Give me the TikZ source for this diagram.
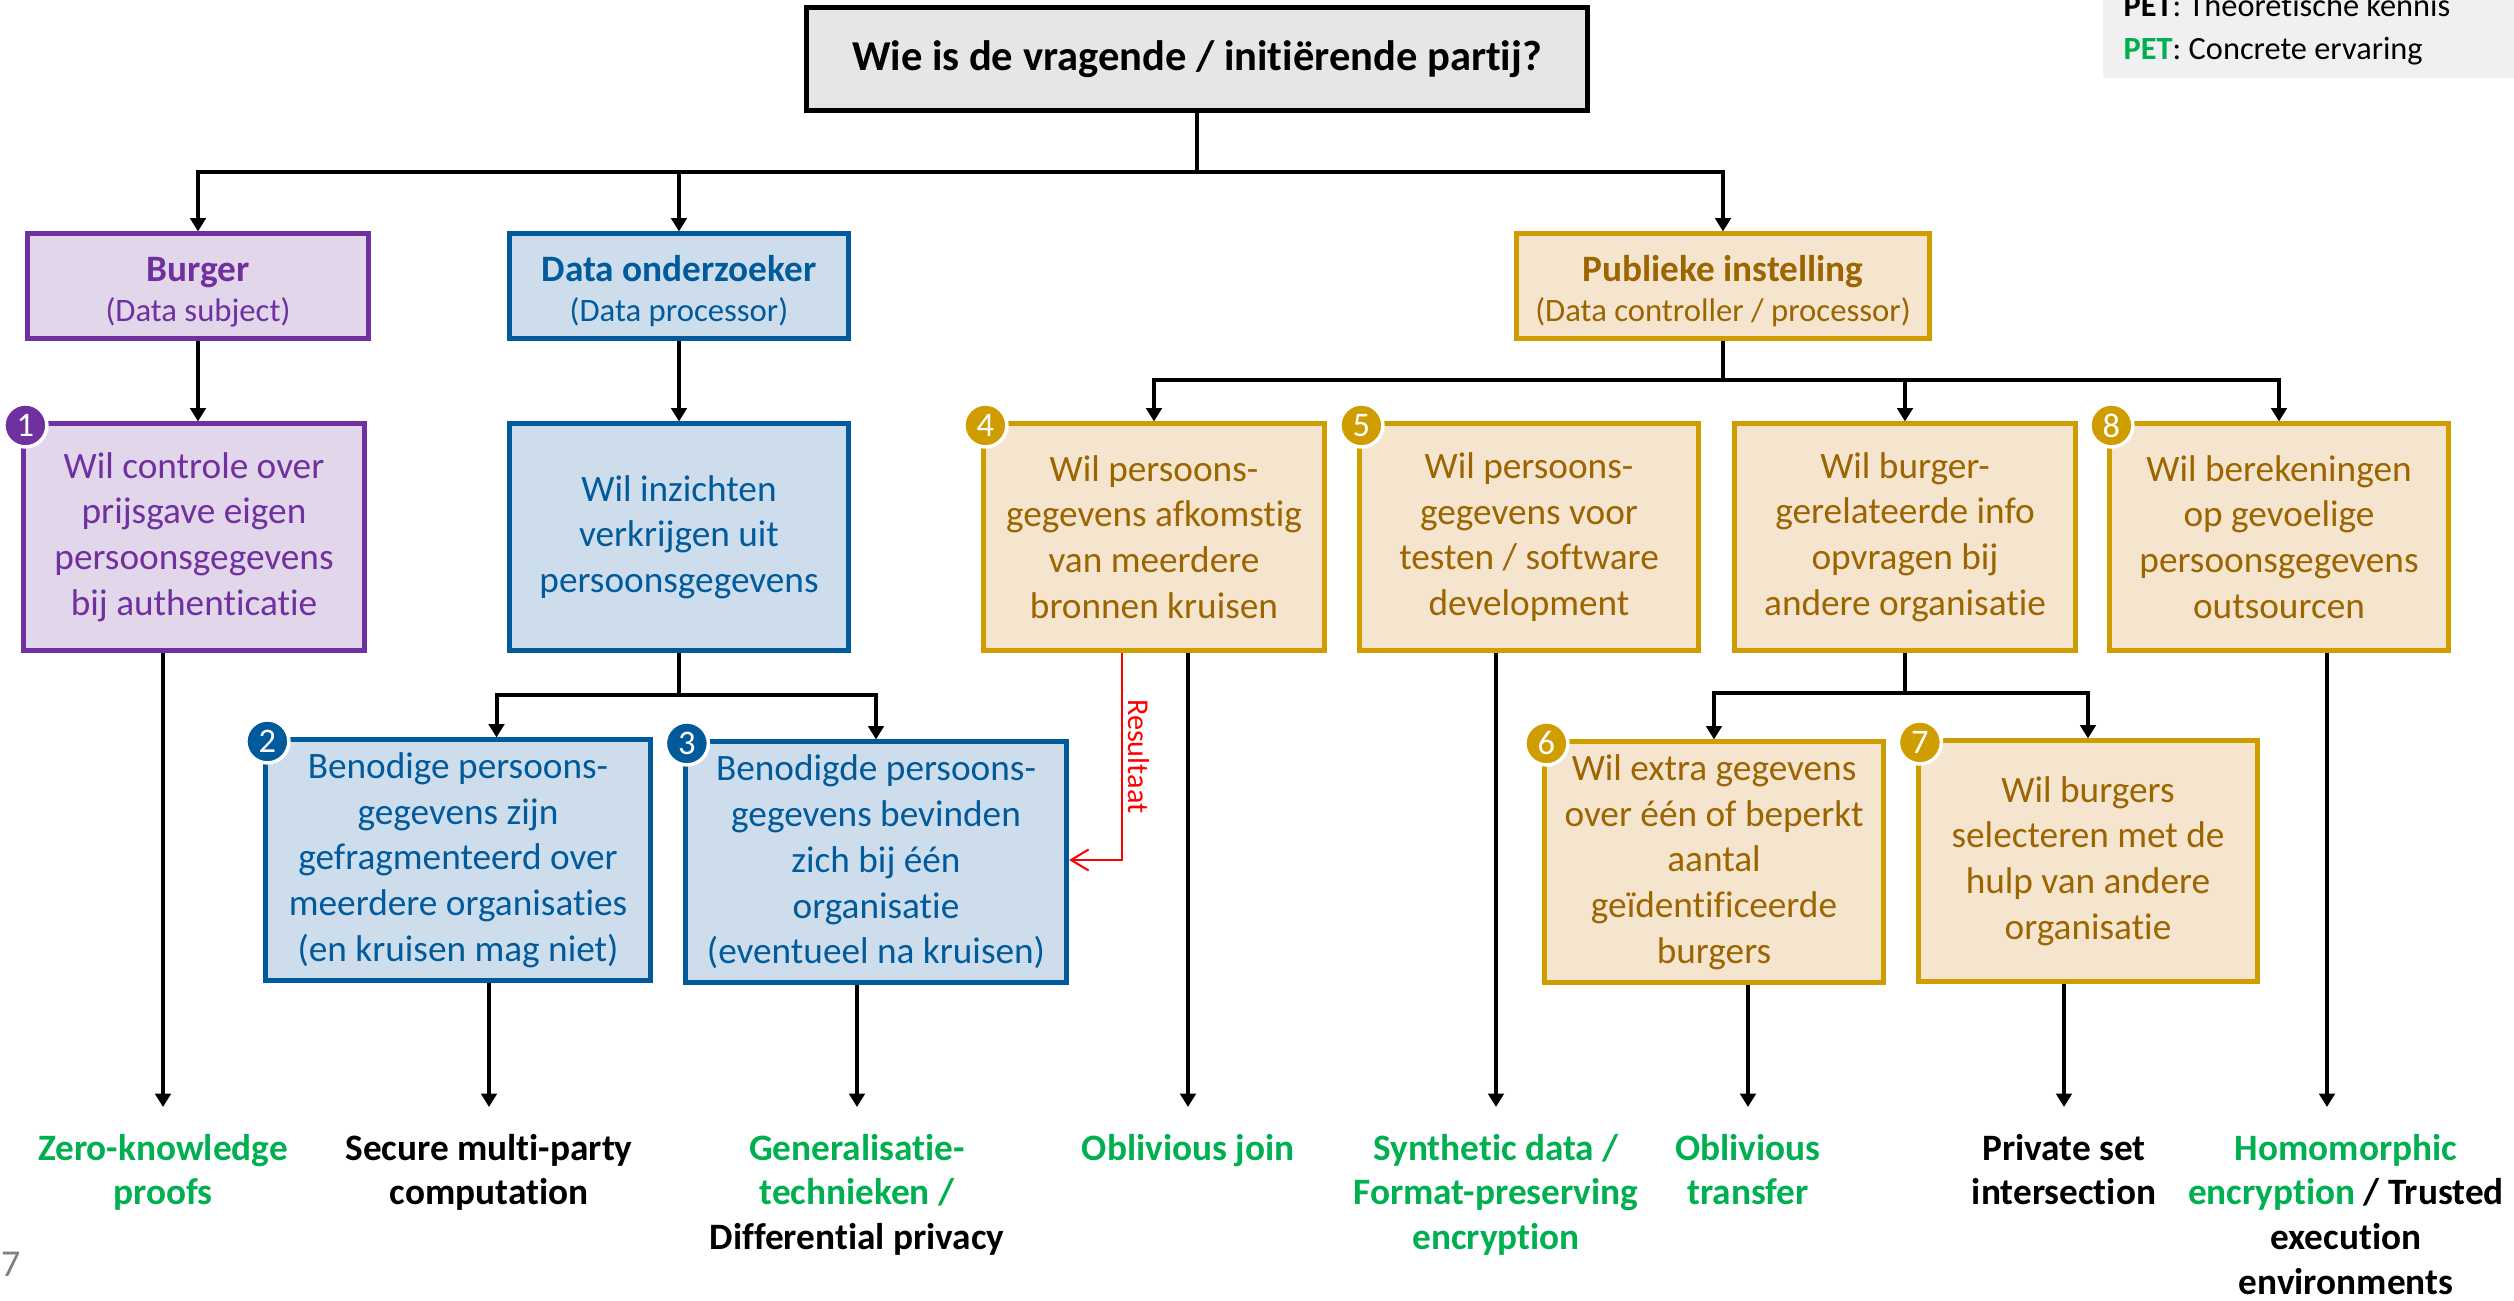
\documentclass[tikz,border=0pt]{standalone}
\usepackage{fontspec}
\setmainfont[Ligatures=NoCommon]{Carlito}
\usetikzlibrary{arrows.meta}

\definecolor{petgreen}{RGB}{0,176,80}
\definecolor{burgline}{RGB}{112,48,160}
\definecolor{burgfill}{RGB}{226,214,235}
\definecolor{onderline}{RGB}{0,90,156}
\definecolor{onderfill}{RGB}{205,221,236}
\definecolor{publine}{RGB}{207,157,0}
\definecolor{pubfill}{RGB}{245,229,206}
\definecolor{pubtext}{RGB}{156,101,0}
\definecolor{titlefill}{RGB}{230,230,230}
\definecolor{legendfill}{RGB}{240,240,240}
\definecolor{pagegray}{RGB}{128,128,128}

\begin{document}
\begin{tikzpicture}[x=0.01cm, y=-0.01cm,
    box/.style={draw, rectangle, line width=0.05cm, inner sep=0pt, align=center, font=\fontsize{10.6}{13}\selectfont},
    burgerbox/.style={box, draw=burgline, fill=burgfill, text=burgline},
    onderbox/.style={box, draw=onderline, fill=onderfill, text=onderline},
    pubbox/.style={box, draw=publine, fill=pubfill, text=pubtext},
    role/.style={minimum height=1.04cm, font=\fontsize{10.6}{11.4}\selectfont},
    wish/.style={minimum height=2.26cm},
    badge/.style={circle, draw=white, line width=0.035cm, minimum size=0.43cm, inner sep=0pt, text=white, font=\fontsize{9.8}{10}\selectfont},
    link/.style={line width=0.04cm},
    arr/.style={link, -{Triangle[length=3.8pt,width=4.4pt]}},
    result/.style={red, line width=0.02cm, -{Straight Barb[length=5pt,width=6pt]}},
    pet/.style={anchor=north, inner sep=0pt, outer ysep=0.27cm, align=center, font=\bfseries\fontsize{10.6}{12.7}\selectfont},
    legendtext/.style={anchor=base west, inner sep=0pt, font=\fontsize{9.2}{10}\selectfont}]

\useasboundingbox (0,0) rectangle (2514,1301);

% legend and page number
\node[fill=legendfill, minimum width=4.2cm, minimum height=1.2cm, anchor=south west, inner sep=0pt] (legend) at (2102,79) {};
\node[legendtext] (pet1) at (2123,17) {\textbf{PET}: Theoretische kennis};
\node[legendtext] (pet2) at (2123,60) {\textbf{\textcolor{petgreen}{PET}}: Concrete ervaring};
\node[anchor=base east, inner sep=0pt, text=pagegray, font=\fontsize{10.8}{12}\selectfont] (pagenr) at (21,1277) {57};

% question
\node[box, draw=black, fill=titlefill, minimum width=7.8cm, minimum height=1.02cm, font=\bfseries\fontsize{12.1}{14}\selectfont] (vraag) at (1197,59) {Wie is de vragende / initiërende partij?};

% parties
\node[burgerbox, role, minimum width=3.4cm] (burger) at (198,286) {\rule{0pt}{10.2pt}\textbf{Burger}\\\fontsize{9.3}{11.4}\selectfont(Data subject)};
\node[onderbox, role, minimum width=3.38cm] (onderzoeker) at (679,286) {\rule{0pt}{10.2pt}\textbf{Data onderzoeker}\\\fontsize{9.3}{11.4}\selectfont(Data processor)};
\node[pubbox, role, minimum width=4.13cm] (publiek) at (1723,286) {\rule{0pt}{10.2pt}\textbf{Publieke instelling}\\\fontsize{9.3}{11.4}\selectfont(Data controller / processor)};

% wishes
\node[burgerbox, wish, minimum width=3.4cm] (q1) at (194,537) {Wil controle over\\prijsgave eigen\\persoonsgegevens\\bij authenticatie};
\node[onderbox, wish, minimum width=3.38cm] (inzicht) at (679,537) {Wil inzichten\\verkrijgen uit\\persoonsgegevens};
\node[pubbox, wish, minimum width=3.4cm] (q4) at (1154,537) {Wil persoons-\\gegevens afkomstig\\van meerdere\\bronnen kruisen};
\node[pubbox, wish, minimum width=3.38cm] (q5) at (1529,537) {Wil persoons-\\gegevens voor\\testen / software\\development};
\node[pubbox, wish, minimum width=3.4cm] (info) at (1905,537) {Wil burger-\\gerelateerde info\\opvragen bij\\andere organisatie};
\node[pubbox, wish, minimum width=3.38cm] (q8) at (2279,537) {Wil berekeningen\\op gevoelige\\persoonsgegevens\\outsourcen};

\node[onderbox, minimum width=3.84cm, minimum height=2.4cm] (q2) at (458,860) {Benodige persoons-\\gegevens zijn\\gefragmenteerd over\\meerdere organisaties\\(en kruisen mag niet)};
\node[onderbox, minimum width=3.81cm, minimum height=2.4cm] (q3) at (876,862) {Benodigde persoons-\\gegevens bevinden\\zich bij één\\organisatie\\(eventueel na kruisen)};
\node[pubbox, minimum width=3.38cm, minimum height=2.4cm] (q6) at (1714,862) {Wil extra gegevens\\over één of beperkt\\aantal\\geïdentificeerde\\burgers};
\node[pubbox, minimum width=3.39cm, minimum height=2.4cm] (q7) at (2088,861) {Wil burgers\\selecteren met de\\hulp van andere\\organisatie};

% numbers
\node[badge, fill=burgline] (b1) at ([shift={(4,4)}]q1.north west) {1};
\node[badge, fill=onderline] (b2) at ([shift={(4,4)}]q2.north west) {2};
\node[badge, fill=onderline] (b3) at ([shift={(4,4)}]q3.north west) {3};
\node[badge, fill=publine] (b4) at ([shift={(4,4)}]q4.north west) {4};
\node[badge, fill=publine] (b5) at ([shift={(4,4)}]q5.north west) {5};
\node[badge, fill=publine] (b6) at ([shift={(4,4)}]q6.north west) {6};
\node[badge, fill=publine] (b7) at ([shift={(4,4)}]q7.north west) {7};
\node[badge, fill=publine] (b8) at ([shift={(4,4)}]q8.north west) {8};

% techniques
\node[pet, text=petgreen] (zkp) at (163,1107) {Zero-knowledge\\proofs};
\node[pet] (mpc) at (489,1107) {Secure multi-party\\computation};
\node[pet] (gen) at (857,1107) {\textcolor{petgreen}{Generalisatie-}\\\textcolor{petgreen}{technieken /}\\Differential privacy};
\node[pet, text=petgreen] (join) at (1188,1107) {Oblivious join};
\node[pet, text=petgreen] (synth) at (1496,1107) {Synthetic data /\\Format-preserving\\encryption};
\node[pet, text=petgreen] (ot) at (1748,1107) {Oblivious\\transfer};
\node[pet] (psi) at (2064,1107) {Private set\\intersection};
\node[pet] (he) at (2346,1107) {\textcolor{petgreen}{Homomorphic}\\\textcolor{petgreen}{encryption} / Trusted\\execution\\environments};

% tree
\coordinate (split0) at (vraag.south |- 0,172);
\coordinate (split1) at (inzicht.south |- 0,695);
\coordinate (split2) at (publiek.south |- 0,380);
\coordinate (split3) at (info.south |- 0,693);

\draw[link] (vraag) -- (split0);
\draw[arr] (split0) -| (burger);
\draw[arr] (split0) -| (onderzoeker);
\draw[arr] (split0) -| (publiek);

\draw[arr] (burger) -- (burger |- q1.north);
\draw[arr] (onderzoeker) -- (inzicht);

\draw[link] (inzicht) -- (split1);
\draw[arr] (split1) -| ([xshift=0.385cm]q2.north);
\draw[arr] (split1) -| (q3);

\draw[link] (publiek) -- (split2);
\draw[arr] (split2) -| (q4);
\draw[arr] (split2) -| (info);
\draw[arr] (split2) -| (q8);

\draw[link] (info) -- (split3);
\draw[arr] (split3) -| (q6);
\draw[arr] (split3) -| (q7);

\draw[result] (q4.south -| 1122,0) |- node[pos=0.25, rotate=-90, anchor=south, inner sep=0.05cm, font=\fontsize{8.6}{9}\selectfont] {Resultaat} (q3.east |- 0,860);

\draw[arr] (q1.south -| zkp) -- (zkp);
\draw[arr] (q2.south -| mpc) -- (mpc);
\draw[arr] (q3.south -| gen) -- (gen);
\draw[arr] (q4.south -| join) -- (join);
\draw[arr] (q5.south -| synth) -- (synth);
\draw[arr] (q6.south -| ot) -- (ot);
\draw[arr] (q7.south -| psi) -- (psi);
\draw[arr] ([xshift=-0.19cm]q8.south -| he) -- ([xshift=-0.19cm]he.north);
\end{tikzpicture}
\end{document}
